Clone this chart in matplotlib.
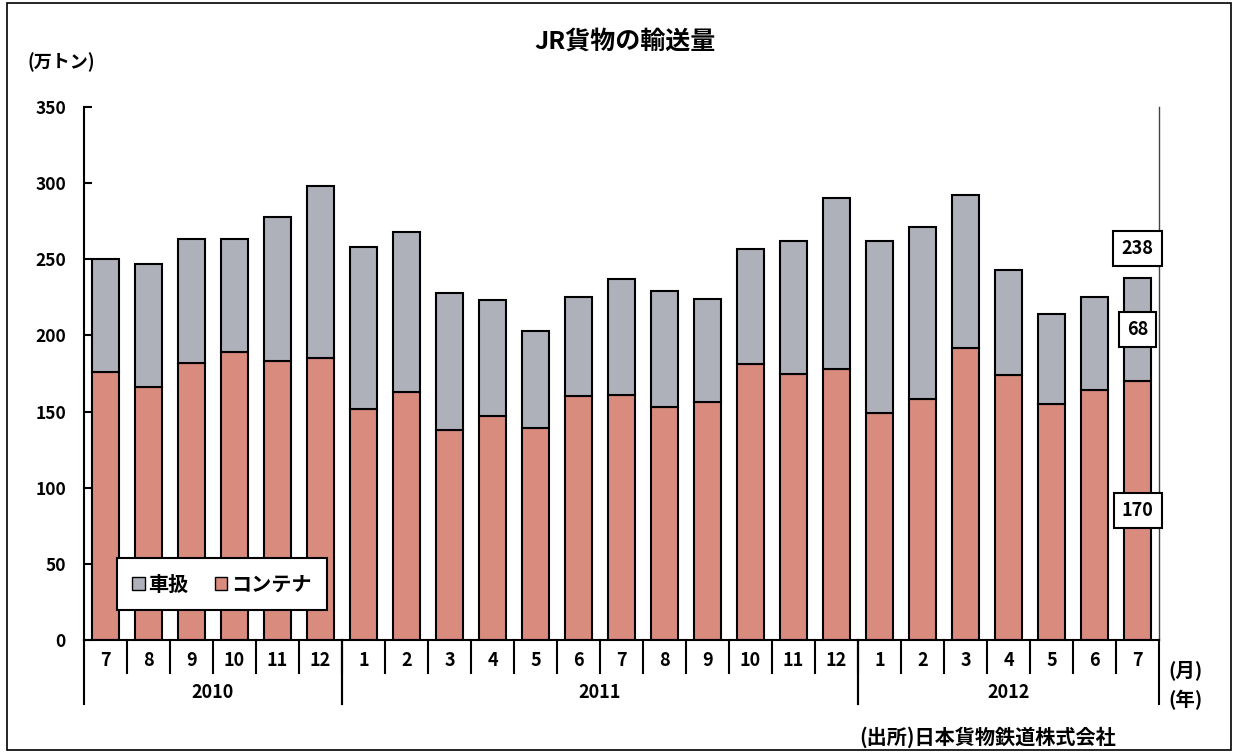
import matplotlib
matplotlib.use("Agg")
import matplotlib.pyplot as plt
from matplotlib.patches import Patch, Rectangle
from matplotlib.lines import Line2D
import matplotlib.transforms as mtransforms

plt.rcParams['font.family'] = ['Noto Sans CJK JP', 'DejaVu Sans']

months = ['7', '8', '9', '10', '11', '12',
          '1', '2', '3', '4', '5', '6', '7', '8', '9', '10', '11', '12',
          '1', '2', '3', '4', '5', '6', '7']
years = ['2010', '2011', '2012']
year_spans = [(0, 6), (6, 18), (18, 25)]
container = [176, 166, 182, 189, 183, 185, 152, 163, 138, 147, 139, 160,
             161, 153, 156, 181, 175, 178, 149, 158, 192, 174, 155, 164, 170]
shaatsukai = [74, 81, 81, 74, 95, 113, 106, 105, 90, 76, 64, 65,
              76, 76, 68, 76, 87, 112, 113, 113, 100, 69, 59, 61, 68]
yticks = [0, 50, 100, 150, 200, 250, 300, 350]

C_CONT = '#D98C7E'
C_SHA = '#AEB1BA'

W, H = 1234, 753
fig = plt.figure(figsize=(W / 100, H / 100), dpi=100)
fig.patch.set_facecolor('white')

ax_l, ax_r, ax_b, ax_t = 84, 1159, 640, 107
ax = fig.add_axes([ax_l / W, 1 - ax_b / H, (ax_r - ax_l) / W, (ax_b - ax_t) / H])
ax.set_facecolor('none')

x = list(range(len(months)))
ax.bar(x, container, width=0.63, color=C_CONT, edgecolor='black', linewidth=1.5, label='コンテナ', zorder=2)
ax.bar(x, shaatsukai, width=0.63, bottom=container, color=C_SHA, edgecolor='black', linewidth=1.5, label='車扱', zorder=2)

ax.set_xlim(-0.5, len(months) - 0.5)
ax.set_ylim(0, 350)
ax.set_yticks(yticks)
ax.set_yticklabels([str(v) for v in yticks], fontsize=12.5, fontweight='bold')
ax.tick_params(axis='y', direction='in', length=6, width=1.5, pad=13)
ax.set_xticks([])

ax.spines['top'].set_visible(False)
ax.spines['left'].set_linewidth(1.5)
ax.spines['bottom'].set_linewidth(1.5)
ax.spines['right'].set_linewidth(1.0)
ax.spines['right'].set_color('#444444')

axh = ax_b - ax_t
trans = mtransforms.blended_transform_factory(ax.transData, ax.transAxes)

# month dividers and labels
for i in range(1, len(months)):
    ax.add_line(Line2D([i - 0.5, i - 0.5], [0, -33 / axh], transform=trans, color='black', lw=1.5, clip_on=False))
for i, m in enumerate(months):
    ax.text(i, -20 / axh, m, transform=trans, ha='center', va='center', fontsize=13, fontweight='bold')
# year dividers and labels
for (a, b), yl in zip(year_spans, years):
    for xx in (a - 0.5, b - 0.5):
        ax.add_line(Line2D([xx, xx], [0, -64 / axh], transform=trans, color='black', lw=1.5, clip_on=False))
    ax.text((a + b - 1) / 2, -52 / axh, yl, transform=trans, ha='center', va='center', fontsize=13, fontweight='bold')

# annotations for last bar
last = len(months) - 1
total_last = container[last] + shaatsukai[last]
bbox = dict(boxstyle='square,pad=0.45', facecolor='white', edgecolor='black', linewidth=1.5)
ax.text(last, total_last + 19, str(total_last), ha='center', va='center', fontsize=13, fontweight='bold', bbox=bbox, zorder=5)
ax.text(last, container[last] + shaatsukai[last] / 2, str(shaatsukai[last]), ha='center', va='center', fontsize=13, fontweight='bold', bbox=bbox, zorder=5)
ax.text(last, container[last] / 2, str(container[last]), ha='center', va='center', fontsize=13, fontweight='bold', bbox=bbox, zorder=5)

# legend
handles = [Patch(facecolor=C_SHA, edgecolor='black', linewidth=1.0, label='車扱'),
           Patch(facecolor=C_CONT, edgecolor='black', linewidth=1.0, label='コンテナ')]
leg = fig.legend(handles=handles, loc='center', bbox_to_anchor=(222 / W, 1 - 584 / H),
                 ncol=2, frameon=True, fancybox=False, framealpha=1.0, handlelength=0.6,
                 handleheight=0.6, handletextpad=0.2, columnspacing=1.3, borderpad=0.75,
                 prop={'weight': 'bold', 'size': 14.5})
leg.get_frame().set_edgecolor('black')
leg.get_frame().set_linewidth(1.5)
leg.get_frame().set_facecolor('white')

# figure texts
fig.text(625 / W, 1 - 42 / H, 'JR貨物の輸送量', ha='center', va='center', fontsize=18, fontweight='bold')
fig.text(27 / W, 1 - 62 / H, '(万トン)', ha='left', va='center', fontsize=13, fontweight='bold')
fig.text(1168 / W, 1 - 670 / H, '(月)', ha='left', va='center', fontsize=14, fontweight='bold')
fig.text(1168 / W, 1 - 700 / H, '(年)', ha='left', va='center', fontsize=14, fontweight='bold')
fig.text(859 / W, 1 - 737 / H, '(出所)日本貨物鉄道株式会社', ha='left', va='center', fontsize=14.5, fontweight='bold')

# outer border
fig.add_artist(Rectangle((7 / W, 3 / H), 1224 / W, 747 / H, transform=fig.transFigure,
                         fill=False, edgecolor='black', linewidth=1.2))

fig.savefig('out.png', dpi=100)
